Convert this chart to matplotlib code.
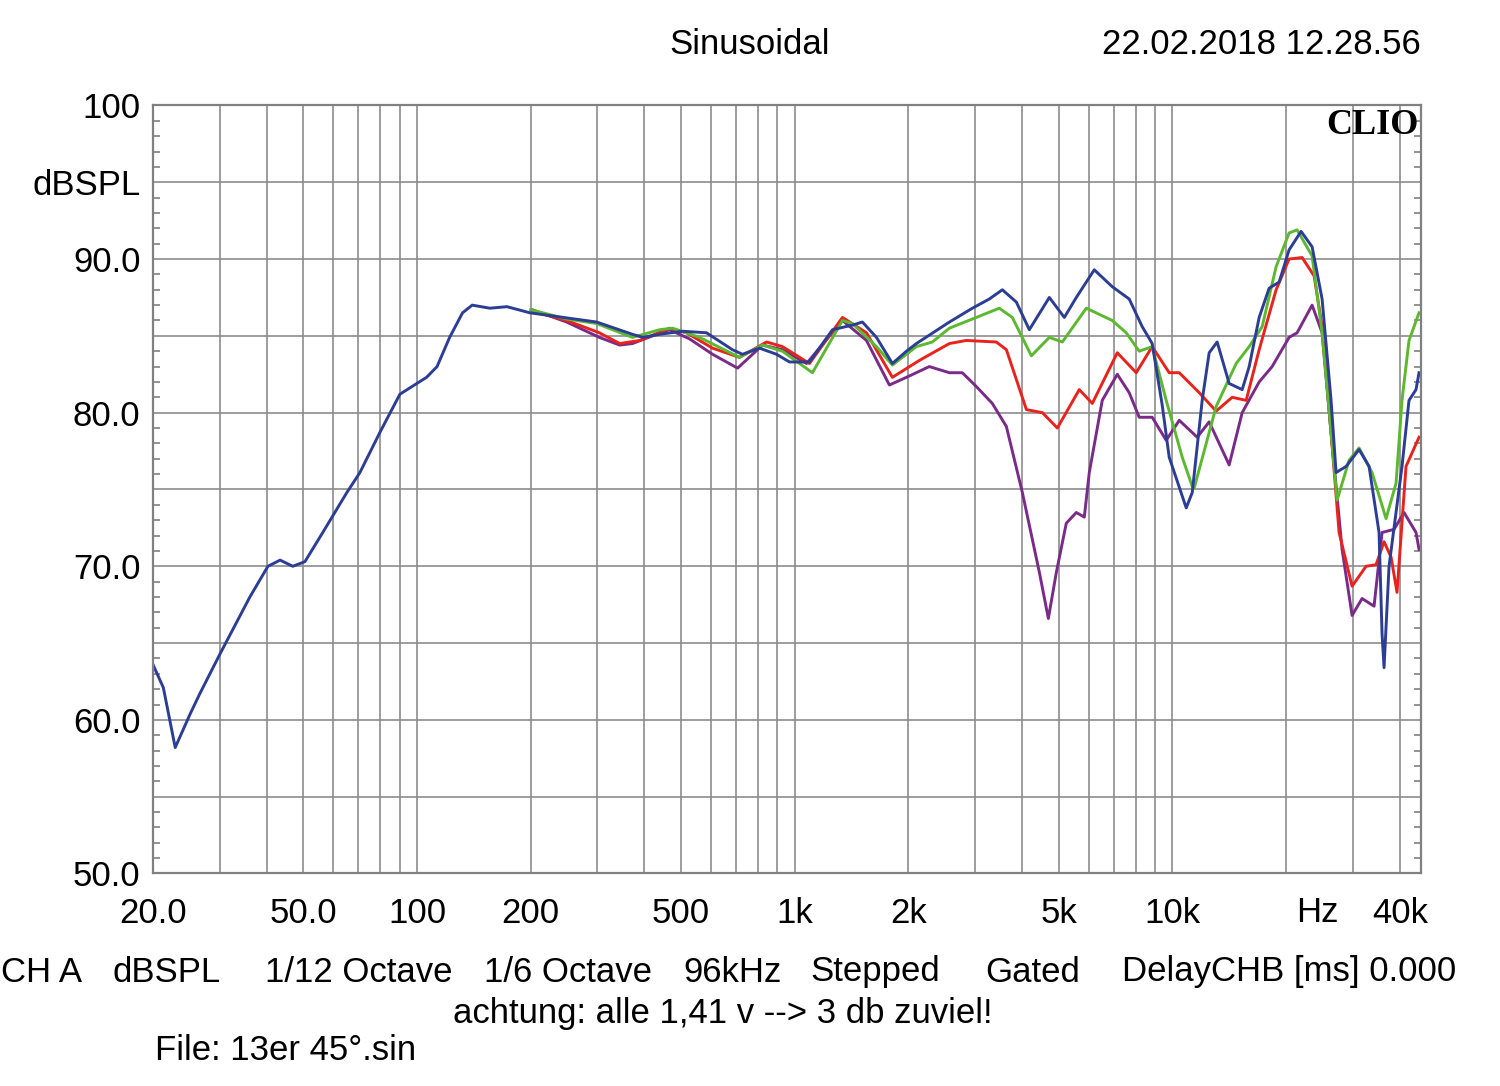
import matplotlib
matplotlib.use("agg")
import matplotlib.pyplot as plt
from matplotlib.ticker import FixedLocator, MultipleLocator

plt.rcParams['font.family'] = ['Liberation Sans', 'DejaVu Sans']

# --- data (Hz, dBSPL) ---
blue_f = [20, 21.3, 22.9, 25.1, 26.6, 30.1, 36.1, 40.3, 43.4, 46.9, 50.5, 56.3, 65.2, 70.6,
          79.7, 90.1, 99.9, 106, 113, 122, 132, 140, 156, 173, 199, 299, 372, 396, 439, 505,
          584, 684, 727, 807, 895, 969, 1094, 1259, 1422, 1511, 1646, 1814, 1976, 2100, 2568,
          2954, 3276, 3546, 3862, 4180, 4722, 5174, 5566, 6210, 6930, 7684, 8318, 8840, 9396,
          9806, 10878, 11284, 11990, 12512, 13136, 14134, 15300, 15968, 16970, 18032, 19166,
          20368, 21914, 23434, 24906, 26304, 27122, 28828, 31202, 33164, 35244, 35894, 36334,
          37458, 40538, 42306, 44148, 44970]
blue_db = [63.6, 62.1, 58.2, 60.4, 61.7, 64.3, 68.0, 70.0, 70.4, 70.0, 70.3, 72.2, 74.8, 76.1,
           78.7, 81.2, 81.9, 82.3, 83.0, 84.9, 86.5, 87.0, 86.8, 86.9, 86.5, 85.9, 85.1, 84.9,
           85.1, 85.3, 85.2, 84.1, 83.8, 84.2, 83.8, 83.3, 83.3, 85.4, 85.7, 85.9, 84.9, 83.2,
           84.0, 84.5, 85.9, 86.8, 87.4, 88.0, 87.2, 85.4, 87.5, 86.2, 87.5, 89.3, 88.2, 87.4,
           85.6, 84.5, 80.5, 77.1, 73.8, 74.8, 80.8, 83.9, 84.6, 81.9, 81.5, 83.0, 86.2, 88.1,
           88.5, 90.6, 91.8, 90.8, 87.4, 80.8, 76.1, 76.5, 77.6, 76.5, 72.2, 65.6, 63.4, 70.0,
           76.5, 80.8, 81.5, 82.6]

green_f = [200, 249, 299, 372, 439, 475, 560, 714, 822, 928, 1114, 1338, 1422, 1646, 1814,
           2100, 2314, 2568, 3026, 3480, 3768, 4232, 4722, 5112, 5916, 6930, 7546, 8168, 8840,
           9628, 10618, 11284, 11422, 13056, 14750, 15968, 17284, 18816, 20368, 21386, 23434,
           24906, 26304, 27288, 29356, 31202, 33774, 36780, 39088, 40538, 42306, 44970]
green_db = [86.7, 86.1, 85.8, 84.9, 85.4, 85.5, 84.9, 83.6, 84.4, 84.0, 82.6, 86.0, 85.8, 84.3,
            83.1, 84.3, 84.6, 85.5, 86.2, 86.8, 86.2, 83.7, 84.9, 84.6, 86.8, 86.0, 85.2, 84.0,
            84.3, 80.8, 77.1, 75.2, 75.1, 80.4, 83.2, 84.3, 85.6, 89.5, 91.7, 91.9, 90.2, 85.2,
            78.7, 74.3, 76.9, 77.7, 76.1, 73.1, 75.4, 80.8, 84.7, 86.5]

red_f = [202, 249, 304, 344, 389, 466, 517, 606, 714, 842, 928, 1094, 1338, 1549, 1814, 2138,
         2568, 2846, 3418, 3634, 4106, 4526, 4958, 5668, 6136, 7146, 8020, 8840, 9806, 10426,
         11774, 13056, 14394, 15678, 16970, 18816, 20368, 22048, 23722, 24906, 26304, 27624,
         29900, 32560, 34606, 36334, 37918, 39326, 41540, 44970]
red_db = [86.6, 86.0, 85.2, 84.5, 84.7, 85.5, 85.2, 84.2, 83.6, 84.6, 84.3, 83.2, 86.2, 85.2,
          82.3, 83.4, 84.5, 84.7, 84.6, 84.1, 80.2, 80.0, 79.0, 81.5, 80.6, 83.9, 82.6, 84.3,
          82.6, 82.6, 81.3, 80.1, 81.0, 80.8, 84.1, 88.0, 90.0, 90.1, 88.9, 85.6, 78.7, 72.2,
          68.7, 70.0, 70.1, 71.6, 70.6, 68.3, 76.5, 78.4]

purple_f = [202, 249, 304, 344, 372, 431, 466, 527, 606, 706, 822, 928, 1075, 1338, 1549, 1781,
            1976, 2272, 2568, 2778, 3026, 3336, 3634, 4006, 4444, 4694, 4928, 5236, 5566, 5844,
            6024, 6520, 7146, 7684, 8168, 8840, 9628, 10426, 11632, 12512, 14134, 15300, 16970,
            18366, 20368, 21386, 23434, 24906, 26304, 28132, 29900, 31778, 34188, 35894, 38614,
            41036, 44148, 44970]
purple_db = [86.7, 85.9, 84.9, 84.4, 84.5, 85.1, 85.4, 84.8, 83.8, 82.9, 84.4, 84.1, 83.2, 86.0,
             84.7, 81.8, 82.3, 83.0, 82.6, 82.6, 81.7, 80.6, 79.1, 74.8, 69.6, 66.6, 69.6, 72.8,
             73.5, 73.2, 76.1, 80.8, 82.5, 81.3, 79.7, 79.7, 78.2, 79.5, 78.4, 79.4, 76.6, 80.0,
             82.0, 83.0, 84.9, 85.2, 87.0, 85.2, 78.7, 71.1, 66.8, 67.9, 67.4, 72.2, 72.4, 73.5,
             72.2, 71.1]

grid_freqs = [20, 30, 40, 50, 60, 70, 80, 90, 100, 200, 300, 400, 500, 600, 700, 800, 900,
              1000, 2000, 3000, 4000, 5000, 6000, 7000, 8000, 9000, 10000, 20000, 30000, 40000]
freq_labels = {20: '20.0', 50: '50.0', 100: '100', 200: '200', 500: '500', 1000: '1k',
               2000: '2k', 5000: '5k', 10000: '10k', 40000: '40k'}
db_labels = {50: '50.0', 60: '60.0', 70: '70.0', 80: '80.0', 90: '90.0', 95: 'dBSPL', 100: '100'}

FS = 25

fig = plt.figure(figsize=(15, 10.86), dpi=100)
ax = fig.add_axes([0.102, 0.1957, 0.8453, 0.7072])

ax.plot(purple_f, purple_db, color='#7a2a88', lw=2.1)
ax.plot(red_f, red_db, color='#e8221c', lw=2.1)
ax.plot(green_f, green_db, color='#5cb830', lw=2.1)
ax.plot(blue_f, blue_db, color='#2b3d94', lw=2.1)

ax.set_xscale('log')
ax.set_xlim(20, 45500)
ax.set_ylim(50, 100)

ax.xaxis.set_major_locator(FixedLocator(grid_freqs))
ax.xaxis.set_minor_locator(FixedLocator([]))
ax.set_xticklabels([freq_labels.get(f, '') for f in grid_freqs])
yt = list(range(50, 101, 5))
ax.yaxis.set_major_locator(FixedLocator(yt))
ax.set_yticklabels([db_labels.get(v, '') for v in yt])
ax.yaxis.set_minor_locator(MultipleLocator(1))

ax.tick_params(axis='x', length=0, pad=17, labelsize=FS)
ax.tick_params(axis='y', which='major', length=0, pad=9, labelsize=FS)
ax.tick_params(axis='y', which='minor', direction='in', length=5, width=1.2,
               color='#808080', left=True, right=True)

ax.grid(True, which='major', color='#8c8c8c', lw=1.2)
for s in ax.spines.values():
    s.set_color('#808080')
    s.set_linewidth(1.6)

ax.text(0.998, 0.995, 'CLIO', transform=ax.transAxes, ha='right', va='top',
        fontsize=26, fontweight='bold', family=['Liberation Serif', 'DejaVu Serif'])

# header / footer texts in pixel positions of the original screen dump
W, H = 1500, 1086
def ftext(x, y, s, **kw):
    fig.text(x / W, 1 - y / H, s, fontsize=FS, va='center', **kw)

ftext(750, 45, 'Sinusoidal', ha='center')
ftext(1421, 45, '22.02.2018 12.28.56', ha='right')
ftext(1317, 912, 'Hz', ha='center')

footer = [(1, 'CH A'), (113, 'dBSPL'), (265, '1/12 Octave'), (484, '1/6 Octave'),
          (683, '96kHz'), (810, 'Stepped'), (985, 'Gated'), (1122, 'DelayCHB [ms] 0.000')]
for x, s in footer:
    ftext(x, 972, s, ha='left')
ftext(723, 1013, 'achtung: alle 1,41 v --> 3 db zuviel!', ha='center')
ftext(155, 1050, 'File: 13er 45°.sin', ha='left')

fig.savefig('out.png', dpi=100, facecolor='white')
